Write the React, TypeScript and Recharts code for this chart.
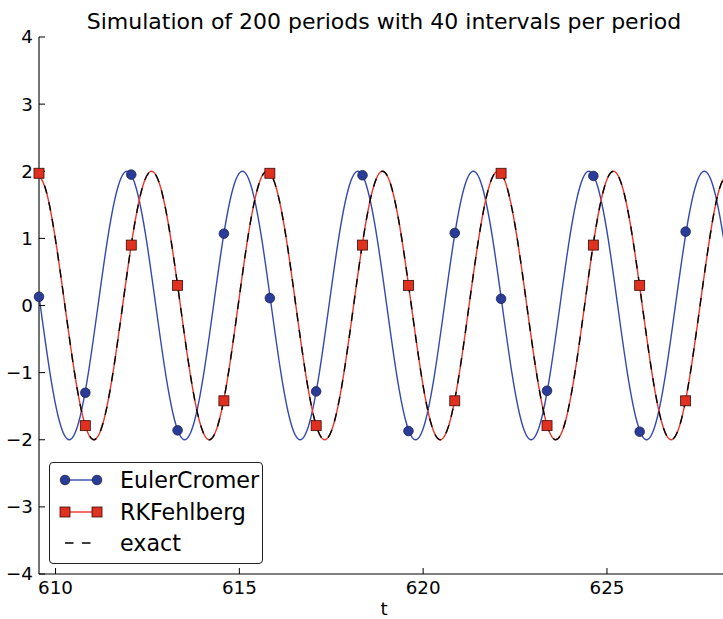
import React from 'react';
import { ComposedChart, Line, Scatter, XAxis, YAxis, Legend } from 'recharts';

// ---- data ----
const TITLE = 'Simulation of 200 periods with 40 intervals per period';
const X_LABEL = 't';
const X_DOMAIN = [609.55, 628.32];
const Y_DOMAIN = [-4, 4];
const X_TICKS = [610, 615, 620, 625];
const Y_TICKS = [-4, -3, -2, -1, 0, 1, 2, 3, 4];

// RKFehlberg / exact curve samples
const rkTimes = [
  609.469, 609.731, 609.993, 610.255, 610.516, 610.778, 611.04, 611.302, 611.563, 611.825, 612.087, 612.349,
  612.611, 612.872, 613.134, 613.396, 613.658, 613.92, 614.181, 614.443, 614.705, 614.967, 615.228, 615.49,
  615.752, 616.014, 616.276, 616.537, 616.799, 617.061, 617.323, 617.584, 617.846, 618.108, 618.37, 618.632,
  618.894, 619.155, 619.417, 619.679, 619.94, 620.202, 620.464, 620.726, 620.987, 621.249, 621.511, 621.773,
  622.035, 622.296, 622.558, 622.82, 623.082, 623.344, 623.605, 623.867, 624.129, 624.391, 624.652, 624.914,
  625.176, 625.438, 625.7, 625.961, 626.223, 626.485, 626.747, 627.008, 627.27, 627.532, 627.794, 628.056,
  628.318,
];
const rkValues = [
  2, 1.732, 1, 0, -1, -1.732, -2, -1.732, -1, 0, 1, 1.732,
  2, 1.732, 1, 0, -1, -1.732, -2, -1.732, -1, 0, 1, 1.732,
  2, 1.732, 1, 0, -1, -1.732, -2, -1.732, -1, 0, 1, 1.732,
  2, 1.732, 1, 0, -1, -1.732, -2, -1.732, -1, 0, 1, 1.732,
  2, 1.732, 1, 0, -1, -1.732, -2, -1.732, -1, 0, 1, 1.732,
  2, 1.732, 1, 0, -1, -1.732, -2, -1.732, -1, 0, 1, 1.732,
  2,
];
const exactValues = [
  2, 1.732, 1, 0, -1, -1.732, -2, -1.732, -1, 0, 1, 1.732,
  2, 1.732, 1, 0, -1, -1.732, -2, -1.732, -1, 0, 1, 1.732,
  2, 1.732, 1, 0, -1, -1.732, -2, -1.732, -1, 0, 1, 1.732,
  2, 1.732, 1, 0, -1, -1.732, -2, -1.732, -1, 0, 1, 1.732,
  2, 1.732, 1, 0, -1, -1.732, -2, -1.732, -1, 0, 1, 1.732,
  2, 1.732, 1, 0, -1, -1.732, -2, -1.732, -1, 0, 1, 1.732,
  2,
];

// EulerCromer curve samples (phase-shifted)
const ecTimes = [
  608.8, 609.062, 609.324, 609.586, 609.847, 610.109, 610.371, 610.633, 610.894, 611.156, 611.418, 611.68,
  611.942, 612.203, 612.465, 612.727, 612.989, 613.251, 613.512, 613.774, 614.036, 614.298, 614.559, 614.821,
  615.083, 615.345, 615.607, 615.868, 616.13, 616.392, 616.654, 616.915, 617.177, 617.439, 617.701, 617.963,
  618.225, 618.486, 618.748, 619.01, 619.271, 619.533, 619.795, 620.057, 620.318, 620.58, 620.842, 621.104,
  621.366, 621.627, 621.889, 622.151, 622.413, 622.675, 622.936, 623.198, 623.46, 623.722, 623.983, 624.245,
  624.507, 624.769, 625.031, 625.292, 625.554, 625.816, 626.078, 626.339, 626.601, 626.863, 627.125, 627.387,
  627.649, 627.911, 628.173, 628.435,
];
const ecValues = [
  2, 1.732, 1, 0, -1, -1.732, -2, -1.732, -1, 0, 1, 1.732,
  2, 1.732, 1, 0, -1, -1.732, -2, -1.732, -1, 0, 1, 1.732,
  2, 1.732, 1, 0, -1, -1.732, -2, -1.732, -1, 0, 1, 1.732,
  2, 1.732, 1, 0, -1, -1.732, -2, -1.732, -1, 0, 1, 1.732,
  2, 1.732, 1, 0, -1, -1.732, -2, -1.732, -1, 0, 1, 1.732,
  2, 1.732, 1, 0, -1, -1.732, -2, -1.732, -1, 0, 1, 1.732,
  2, 1.732, 1, 0,
];

// marker samples
const markerTimes = [609.55, 610.81, 612.06, 613.32, 614.58, 615.83, 617.09, 618.35, 619.6, 620.86, 622.12, 623.37, 624.63, 625.89, 627.14];
const ecMarkerValues = [0.13, -1.3, 1.95, -1.86, 1.07, 0.11, -1.28, 1.94, -1.87, 1.08, 0.1, -1.27, 1.93, -1.88, 1.1];
const rkMarkerValues = [1.97, -1.79, 0.9, 0.3, -1.42, 1.97, -1.79, 0.9, 0.3, -1.42, 1.97, -1.79, 0.9, 0.3, -1.42];

const SERIES_NAMES = ['EulerCromer', 'RKFehlberg', 'exact'];

// ---- styles ----
const FONT = 'DejaVu Sans';
const EC_LINE = '#3449ad';
const EC_MARK = '#2a3c98';
const RK_LINE = '#e8362a';
const RK_MARK = '#e0301f';

const zip = (ts: number[], vs: number[]) => ts.map((t, i) => ({ t, v: vs[i] }));
const rkData = zip(rkTimes, rkValues);
const exactData = zip(rkTimes, exactValues);
const ecData = zip(ecTimes, ecValues);
const ecMarkers = zip(markerTimes, ecMarkerValues);
const rkMarkers = zip(markerTimes, rkMarkerValues);

const fmt = (v: number) => (v < 0 ? '\u2212' + Math.abs(v) : String(v));

const CircleMarker = (p: any) =>
  p.cx == null ? null : (
    <circle cx={p.cx} cy={p.cy} r={4.8} fill={EC_MARK} stroke="#16204f" strokeWidth={0.8} />
  );
const SquareMarker = (p: any) =>
  p.cx == null ? null : (
    <rect x={p.cx - 5} y={p.cy - 5} width={10} height={10} fill={RK_MARK} stroke="#3a0a05" strokeWidth={0.8} />
  );

const LegendBox = () => (
  <div
    style={{
      width: 214,
      height: 102,
      boxSizing: 'border-box',
      border: '1.2px solid #222',
      borderRadius: 4,
      background: '#fff',
      position: 'relative',
      fontFamily: FONT,
      fontSize: 22.2,
      color: '#000',
    }}
  >
    {SERIES_NAMES.map((name, i) => (
      <div
        key={name}
        style={{ position: 'absolute', left: 0, top: 1 + i * 31.6, height: 32, display: 'flex', alignItems: 'center' }}
      >
        <svg width={70} height={32} style={{ display: 'block' }}>
          {i === 0 && (
            <g>
              <line x1={15} y1={16} x2={47} y2={16} stroke={EC_LINE} strokeWidth={1.4} />
              <circle cx={15} cy={16} r={4.8} fill={EC_MARK} stroke="#16204f" strokeWidth={0.8} />
              <circle cx={47} cy={16} r={4.8} fill={EC_MARK} stroke="#16204f" strokeWidth={0.8} />
            </g>
          )}
          {i === 1 && (
            <g>
              <line x1={15} y1={16} x2={47} y2={16} stroke={RK_LINE} strokeWidth={1.4} />
              <rect x={10} y={11} width={10} height={10} fill={RK_MARK} stroke="#3a0a05" strokeWidth={0.8} />
              <rect x={42} y={11} width={10} height={10} fill={RK_MARK} stroke="#3a0a05" strokeWidth={0.8} />
            </g>
          )}
          {i === 2 && (
            <line x1={15} y1={16} x2={47} y2={16} stroke="#000" strokeWidth={1.4} strokeDasharray="8.5 8.5" />
          )}
        </svg>
        <span style={{ lineHeight: '32px', whiteSpace: 'nowrap' }}>{name}</span>
      </div>
    ))}
  </div>
);

export default function App() {
  const tickStyle = { fill: '#000', fontSize: 18.3, fontFamily: FONT };
  return (
    <div style={{ position: 'absolute', left: 0, top: 0, width: 723, height: 619, overflow: 'hidden', background: '#fff' }}>
      <ComposedChart width={735} height={619} margin={{ top: 37, right: 6, bottom: 0, left: 0 }}>
        <XAxis
          dataKey="t"
          type="number"
          domain={X_DOMAIN}
          allowDataOverflow
          ticks={X_TICKS}
          tick={tickStyle}
          tickFormatter={fmt}
          tickSize={-6}
          tickMargin={13}
          height={45}
          stroke="#000"
          axisLine={{ stroke: '#000', strokeWidth: 1.1 }}
          tickLine={{ stroke: '#000', strokeWidth: 1 }}
        />
        <XAxis
          xAxisId="top"
          dataKey="t"
          type="number"
          orientation="top"
          domain={X_DOMAIN}
          allowDataOverflow
          ticks={X_TICKS}
          tick={false}
          tickSize={-6}
          height={0}
          axisLine={{ stroke: '#000', strokeWidth: 1.1 }}
          tickLine={{ stroke: '#000', strokeWidth: 1 }}
        />
        <XAxis xAxisId="m" dataKey="t" type="number" domain={X_DOMAIN} hide />
        <YAxis
          type="number"
          domain={Y_DOMAIN}
          ticks={Y_TICKS}
          tick={tickStyle}
          tickFormatter={fmt}
          tickSize={-6}
          tickMargin={12}
          width={39}
          axisLine={{ stroke: '#000', strokeWidth: 1.1 }}
          tickLine={{ stroke: '#000', strokeWidth: 1 }}
        />
        <YAxis
          yAxisId="right"
          orientation="right"
          type="number"
          domain={Y_DOMAIN}
          ticks={Y_TICKS}
          tick={false}
          tickSize={-6}
          width={0}
          axisLine={{ stroke: '#000', strokeWidth: 1.1 }}
          tickLine={{ stroke: '#000', strokeWidth: 1 }}
        />
        <Line
          data={ecData}
          dataKey="v"
          type="natural"
          stroke={EC_LINE}
          strokeWidth={1.4}
          dot={false}
          activeDot={false}
          isAnimationActive={false}
          name={SERIES_NAMES[0]}
        />
        <Line
          data={rkData}
          dataKey="v"
          type="natural"
          stroke={RK_LINE}
          strokeWidth={1.4}
          dot={false}
          activeDot={false}
          isAnimationActive={false}
          name={SERIES_NAMES[1]}
        />
        <Line
          data={exactData}
          dataKey="v"
          type="natural"
          stroke="#000"
          strokeWidth={1.4}
          strokeDasharray="8.5 8.5"
          dot={false}
          activeDot={false}
          isAnimationActive={false}
          name={SERIES_NAMES[2]}
        />
        <Scatter xAxisId="m" data={ecMarkers} dataKey="v" shape={CircleMarker} isAnimationActive={false} />
        <Scatter xAxisId="m" data={rkMarkers} dataKey="v" shape={SquareMarker} isAnimationActive={false} />
        <Legend
          layout="vertical"
          align="center"
          verticalAlign="middle"
          content={() => <LegendBox />}
          wrapperStyle={{ left: 49, top: 462, width: 214, height: 102 }}
        />
      </ComposedChart>
      <div
        style={{
          position: 'absolute',
          left: 39,
          width: 690,
          top: 9.5,
          textAlign: 'center',
          fontFamily: FONT,
          fontSize: 22,
          lineHeight: '24px',
          color: '#000',
          whiteSpace: 'nowrap',
        }}
      >
        {TITLE}
      </div>
      <div
        style={{
          position: 'absolute',
          left: 39,
          width: 690,
          top: 600,
          textAlign: 'center',
          fontFamily: FONT,
          fontSize: 18.3,
          lineHeight: '18px',
          color: '#000',
        }}
      >
        {X_LABEL}
      </div>
    </div>
  );
}
